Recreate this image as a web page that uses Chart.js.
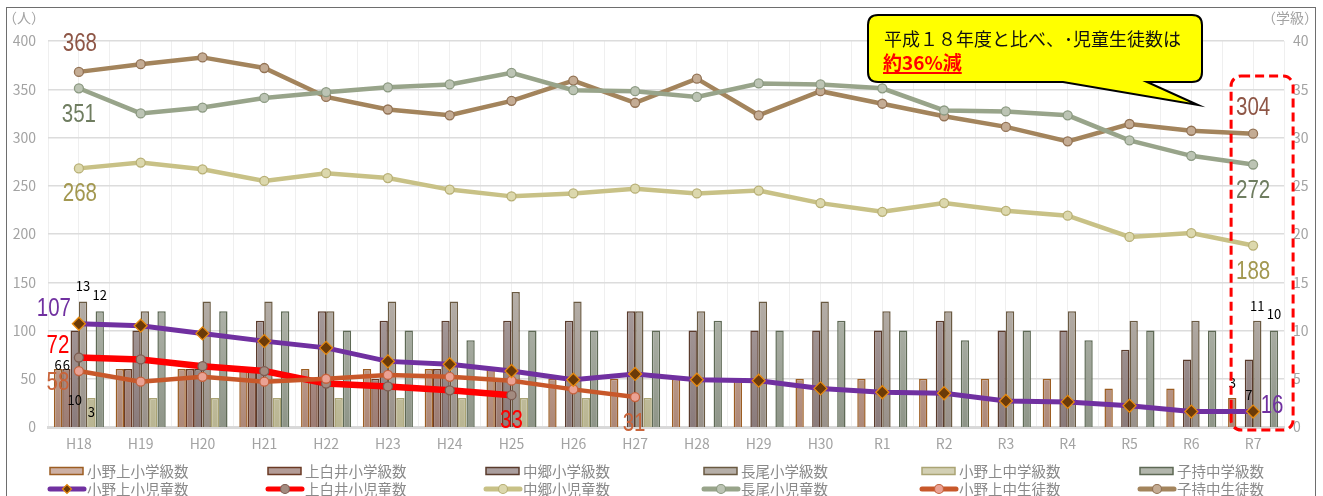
<!DOCTYPE html>
<html lang="ja">
<head>
<meta charset="utf-8">
<script src="https://cdn.jsdelivr.net/npm/chart.js@4.4.0/dist/chart.umd.min.js"></script>
<style>
  html, body { margin: 0; padding: 0; background: #fff; }
  #wrap { position: relative; width: 1323px; height: 496px; overflow: hidden; }
  #frame { position: absolute; left: 6px; top: 7px; width: 1310px; height: 520px; border: 1.5px solid #6e6e6e; box-sizing: border-box; pointer-events: none; }
  canvas { position: absolute; left: 0; top: 0; }
</style>
</head>
<body>
<div id="wrap">
  <canvas id="chart" width="1323" height="496"></canvas>
  <div id="frame"></div>
</div>
<script>
const years = ['H18','H19','H20','H21','H22','H23','H24','H25','H26','H27',
               'H28','H29','H30','R1','R2','R3','R4','R5','R6','R7'];

// 学級数 (right axis)
const onogamiShoClasses  = [6,6,6,6,6,6,6,6,5,5,5,5,5,5,5,5,5,4,4,3];
const kamishiraiClasses  = [6,6,6,6,5,5,6,5,null,null,null,null,null,null,null,null,null,null,null,null];
const nakagoClasses      = [10,10,6,11,12,11,11,11,11,12,10,10,10,10,11,10,10,8,7,7];
const nagaoClasses       = [13,12,13,13,12,13,13,14,13,12,12,13,13,12,12,12,12,11,11,11];
const onogamiChuClasses  = [3,3,3,3,3,3,3,3,3,3,null,null,null,null,null,null,null,null,null,null];
const komochiChuClasses  = [12,12,12,12,10,10,9,10,10,10,11,10,11,10,9,10,9,10,10,10];

// 児童・生徒数 (left axis)
const onogamiShoPupils   = [107,105,97,89,82,68,65,58,49,55,49,48,40,36,35,27,26,22,16,16];
const kamishiraiPupils   = [72,70,63,58,45,42,38,33,null,null,null,null,null,null,null,null,null,null,null,null];
const nakagoPupils       = [268,274,267,255,263,258,246,239,242,247,242,245,232,223,232,224,219,197,201,188];
const nagaoPupils        = [351,325,331,341,347,352,355,367,349,348,342,356,355,351,328,327,323,297,281,272];
const onogamiChuStudents = [58,47,52,47,50,54,52,48,39,31,null,null,null,null,null,null,null,null,null,null];
const komochiChuStudents = [368,376,383,372,342,329,323,338,359,336,361,323,348,335,322,311,296,314,307,304];

const calloutLine1 = '平成１８年度と比べ、･児童生徒数は';
const calloutLine2 = '約36%減';

const FONT = "'Noto Sans CJK JP', 'Noto Sans', sans-serif";
const AXIS_GREY = '#a3a3a3';

function grad(top, bottom) {
    return function (c) {
        const chart = c.chart;
        if (!chart.chartArea) return top;
        const y1 = chart.scales.y1;
        const g = chart.ctx.createLinearGradient(0, y1.getPixelForValue(14), 0, y1.getPixelForValue(0));
        g.addColorStop(0, top);
        g.addColorStop(1, bottom);
        return g;
    };
}

function barSet(label, data, top, bottom, border) {
    return {
        type: 'bar', label, data, yAxisID: 'y1', order: 10,
        backgroundColor: grad(top, bottom), legendFill: top,
        borderColor: border, borderWidth: 1.5,
        barPercentage: 1.0, categoryPercentage: 0.81
    };
}

function lineSet(label, data, color, width, pointFill, pointBorder, style, radius, order) {
    return {
        type: 'line', label, data, yAxisID: 'y', order,
        borderColor: color, borderWidth: width, fill: false, tension: 0,
        pointStyle: style, pointRadius: radius, pointBackgroundColor: pointFill,
        pointBorderColor: pointBorder, pointBorderWidth: 1.3, spanGaps: false
    };
}

const datasets = [
    barSet('小野上小学級数', onogamiShoClasses, '#cdb0a4', '#ad8877', '#9c5d22'),
    barSet('上白井小学級数', kamishiraiClasses, '#b39c97', '#9d7d74', '#6b3a24'),
    barSet('中郷小学級数', nakagoClasses, '#aa9e9e', '#8a7b7b', '#5a3b2c'),
    barSet('長尾小学級数', nagaoClasses, '#b6afa8', '#99918a', '#6a5a42'),
    barSet('小野上中学級数', onogamiChuClasses, '#d3d0b4', '#b9b592', '#aaa474'),
    barSet('子持中学級数', komochiChuClasses, '#b2b6ac', '#8e9588', '#5e6955'),
    lineSet('小野上小児童数', onogamiShoPupils, '#7030a0', 5, '#6b3a08', '#e6890f', 'rectRot', 6.5, 0),
    lineSet('上白井小児童数', kamishiraiPupils, '#ff0000', 6.5, '#a38b80', '#7d5d52', 'circle', 4.5, 2),
    lineSet('中郷小児童数', nakagoPupils, '#c8c186', 4.5, '#dcd8ad', '#b8b076', 'circle', 4.5, 3),
    lineSet('長尾小児童数', nagaoPupils, '#98a48a', 4.5, '#bcc4b4', '#8c9a82', 'circle', 4.5, 3),
    lineSet('小野上中生徒数', onogamiChuStudents, '#c8582a', 4.5, '#eaa294', '#c5633f', 'circle', 4.5, 1),
    lineSet('子持中生徒数', komochiChuStudents, '#a3845c', 4.5, '#c4ac94', '#937355', 'circle', 4.5, 3)
];

// big value labels: dataset index, point index, colour, offset from the point
const valueLabels = [
    { ds: 11, i: 0,  color: '#8e5646', dx: 1,   dy: -28 },
    { ds: 9,  i: 0,  color: '#6f7d60', dx: 0,   dy: 27 },
    { ds: 8,  i: 0,  color: '#a39850', dx: 1,   dy: 26 },
    { ds: 6,  i: 0,  color: '#7030a0', dx: -25, dy: -15 },
    { ds: 7,  i: 0,  color: '#ff0000', dx: -21, dy: -11 },
    { ds: 10, i: 0,  color: '#c9643a', dx: -21, dy: 12 },
    { ds: 7,  i: 7,  color: '#ff0000', dx: 0,   dy: 26 },
    { ds: 10, i: 9,  color: '#c9643a', dx: -1,  dy: 27 },
    { ds: 11, i: 19, color: '#8e5646', dx: 0,   dy: -26 },
    { ds: 9,  i: 19, color: '#6f7d60', dx: 0,   dy: 27 },
    { ds: 8,  i: 19, color: '#a39850', dx: 0,   dy: 27 },
    { ds: 6,  i: 19, color: '#7030a0', dx: 19,  dy: -5 }
];

// small class-count labels on the bars
const barLabels = [
    { ds: 0, i: 0, dy: -4 }, { ds: 1, i: 0, dy: -4 }, { ds: 2, i: 0, dy: 70 },
    { ds: 3, i: 0, dy: -15 }, { ds: 4, i: 0, dy: 14 }, { ds: 5, i: 0, dy: -16 },
    { ds: 0, i: 19, dy: -15 }, { ds: 2, i: 19, dy: 36 },
    { ds: 3, i: 19, dy: -15 }, { ds: 5, i: 19, dy: -16 }
];

const decorations = {
    id: 'decorations',
    afterDraw(chart) {
        const ctx = chart.ctx;
        const area = chart.chartArea;
        const x = chart.scales.x;

        // unit captions
        ctx.save();
        ctx.fillStyle = AXIS_GREY;
        ctx.font = '14px ' + FONT;
        ctx.textBaseline = 'middle';
        ctx.textAlign = 'left';
        ctx.fillText('（人）', 3, 18);
        ctx.textAlign = 'right';
        ctx.fillText('（学級）', 1318, 18);
        ctx.restore();

        // big numbers
        valueLabels.forEach(l => {
            const pt = chart.getDatasetMeta(l.ds).data[l.i];
            const v = chart.data.datasets[l.ds].data[l.i];
            ctx.save();
            ctx.translate(pt.x + l.dx, pt.y + l.dy);
            ctx.scale(0.82, 1);
            ctx.font = "25px 'Liberation Sans', sans-serif";
            ctx.fillStyle = l.color;
            ctx.textAlign = 'center';
            ctx.textBaseline = 'middle';
            ctx.fillText(String(v), 0, 0);
            ctx.restore();
        });

        // bar numbers
        barLabels.forEach(l => {
            const bar = chart.getDatasetMeta(l.ds).data[l.i];
            const v = chart.data.datasets[l.ds].data[l.i];
            ctx.save();
            ctx.font = '13px ' + FONT;
            ctx.fillStyle = '#000';
            ctx.textAlign = 'center';
            ctx.textBaseline = 'middle';
            ctx.fillText(String(v), bar.x, bar.y + l.dy);
            ctx.restore();
        });

        // red dashed frame around the latest year
        const cx = x.getPixelForValue(years.length - 1);
        ctx.save();
        ctx.strokeStyle = '#ff0000';
        ctx.lineWidth = 3;
        ctx.setLineDash([9, 5]);
        ctx.beginPath();
        ctx.roundRect(cx - 22, 76, 62, area.bottom + 3 - 76, 10);
        ctx.stroke();
        ctx.restore();

        // callout
        ctx.save();
        ctx.beginPath();
        ctx.moveTo(878, 15);
        ctx.lineTo(1192, 15);
        ctx.quadraticCurveTo(1202, 15, 1202, 25);
        ctx.lineTo(1202, 72);
        ctx.quadraticCurveTo(1202, 82, 1192, 82);
        ctx.lineTo(1147, 82);
        ctx.lineTo(1198, 105);
        ctx.lineTo(1063, 82);
        ctx.lineTo(878, 82);
        ctx.quadraticCurveTo(868, 82, 868, 72);
        ctx.lineTo(868, 25);
        ctx.quadraticCurveTo(868, 15, 878, 15);
        ctx.closePath();
        ctx.fillStyle = '#ffff00';
        ctx.fill();
        ctx.lineWidth = 2;
        ctx.strokeStyle = '#000';
        ctx.stroke();
        ctx.fillStyle = '#111';
        ctx.font = '18px ' + FONT;
        ctx.textAlign = 'left';
        ctx.textBaseline = 'middle';
        ctx.fillText(calloutLine1, 884, 39);
        ctx.fillStyle = '#ff0000';
        ctx.font = 'bold 19px ' + FONT;
        ctx.fillText(calloutLine2, 883, 63);
        const w = ctx.measureText(calloutLine2).width;
        ctx.fillRect(883, 72, w, 2);
        ctx.restore();

        // legend, six columns by two rows
        chart.data.datasets.forEach((d, k) => {
            const col = k % 6;
            const row = Math.floor(k / 6);
            const lx = 50 + col * 218;
            const ly = row === 0 ? 471 : 489;
            ctx.save();
            if (d.type === 'bar') {
                ctx.fillStyle = d.legendFill;
                ctx.fillRect(lx, ly - 3.5, 33, 7);
                ctx.strokeStyle = d.borderColor;
                ctx.lineWidth = 1.5;
                ctx.strokeRect(lx, ly - 3.5, 33, 7);
            } else {
                ctx.strokeStyle = d.borderColor;
                ctx.lineWidth = 5;
                ctx.lineCap = 'round';
                ctx.beginPath();
                ctx.moveTo(lx, ly);
                ctx.lineTo(lx + 34, ly);
                ctx.stroke();
                ctx.fillStyle = d.pointBackgroundColor;
                ctx.strokeStyle = d.pointBorderColor;
                ctx.lineWidth = 1.2;
                Chart.helpers.drawPoint(ctx, { pointStyle: d.pointStyle, radius: 4.5, rotation: 0, borderWidth: 1.2 }, lx + 17, ly);
            }
            ctx.fillStyle = '#8a8a8a';
            ctx.font = '14.5px ' + FONT;
            ctx.textAlign = 'left';
            ctx.textBaseline = 'middle';
            ctx.fillText(d.label, lx + 37, ly);
            ctx.restore();
        });
    }
};

new Chart(document.getElementById('chart'), {
    data: { labels: years, datasets },
    options: {
        responsive: false,
        animation: false,
        layout: { padding: { top: 41, left: 0, right: 0, bottom: 0 } },
        plugins: { legend: { display: false }, tooltip: { enabled: false } },
        scales: {
            x: {
                type: 'category',
                offset: true,
                grid: { offset: true, color: '#efefef', drawTicks: false },
                border: { color: '#d9d9d9', width: 3 },
                ticks: { color: AXIS_GREY, font: { size: 14, family: FONT }, padding: 8, maxRotation: 0, autoSkip: false },
                afterFit: s => { s.height = 69; }
            },
            xc: {
                type: 'category',
                position: 'top',
                offset: true,
                grid: { offset: false, color: '#efefef', drawTicks: false },
                border: { display: false },
                ticks: { display: false },
                afterFit: s => { s.height = 0; }
            },
            y: {
                position: 'left',
                min: 0, max: 400,
                ticks: { stepSize: 50, color: AXIS_GREY, font: { size: 14, family: FONT }, padding: 12 },
                grid: { color: '#dcdcdc', lineWidth: 1.5, drawTicks: false },
                border: { display: false },
                afterFit: s => { s.width = 48; }
            },
            y1: {
                position: 'right',
                min: 0, max: 40,
                ticks: { stepSize: 5, color: AXIS_GREY, font: { size: 14, family: FONT }, padding: 9 },
                grid: { display: false, drawTicks: false },
                border: { display: false },
                afterFit: s => { s.width = 39; }
            }
        }
    },
    plugins: [decorations]
});
</script>
</body>
</html>
